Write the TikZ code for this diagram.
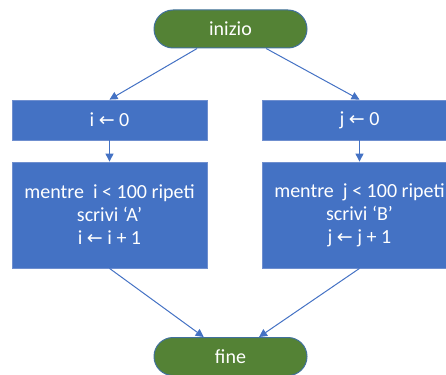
\documentclass[tikz,border=0pt]{standalone}
\usepackage{fontspec}
\setmainfont{Carlito}
\newfontfamily\arrfont{DejaVu Sans}
\usetikzlibrary{shapes.misc,arrows.meta}
\definecolor{boxblue}{HTML}{4472C4}
\definecolor{boxedge}{HTML}{6F8FCF}
\definecolor{termgreen}{HTML}{548235}
\definecolor{termedge}{HTML}{41719C}
\newcommand{\larr}{{\arrfont\fontsize{19}{23}\selectfont ←}}
\begin{document}
\begin{tikzpicture}[x=1pt,y=-1pt,
  font=\fontsize{20}{23}\selectfont,
  term/.style={rounded rectangle, fill=termgreen, draw=termedge, line width=1pt,
    minimum width=153pt, minimum height=38pt, text=white, inner sep=0pt},
  proc/.style={rectangle, fill=boxblue, draw=boxedge, line width=0.8pt,
    minimum width=195pt, text=white, inner sep=0pt, align=center},
  conn/.style={draw=boxblue, line width=1pt, -{Triangle[length=8pt,width=8pt]}}]
\useasboundingbox (0,0) rectangle (446,374);
\clip (0,0) rectangle (446,374);
\node[term] (inizio) at (230.5,29) {inizio};
\node[proc, minimum height=40pt] (l0) at (109.5,120) {i \larr{} 0};
\node[proc, minimum height=40pt] (r0) at (359.5,120) {j \larr{} 0};
\node[proc, minimum height=106pt] (l1) at (109.5,215) {mentre\ \ i < 100 ripeti\\scrivi ‘A’\\i \larr{} i + 1};
\node[proc, minimum height=106pt] (r1) at (359.5,215) {mentre\ \ j < 100 ripeti\\scrivi ‘B’\\j \larr{} j + 1};
\node[term] (fine) at (230.5,356.5) {fine};
\draw[conn] (inizio) -- (l0.north);
\draw[conn] (inizio) -- (r0.north);
\draw[conn] (l0) -- (l1);
\draw[conn] (r0) -- (r1);
\draw[conn] (l1.south) -- (fine);
\draw[conn] (r1.south) -- (fine);
\end{tikzpicture}
\end{document}
